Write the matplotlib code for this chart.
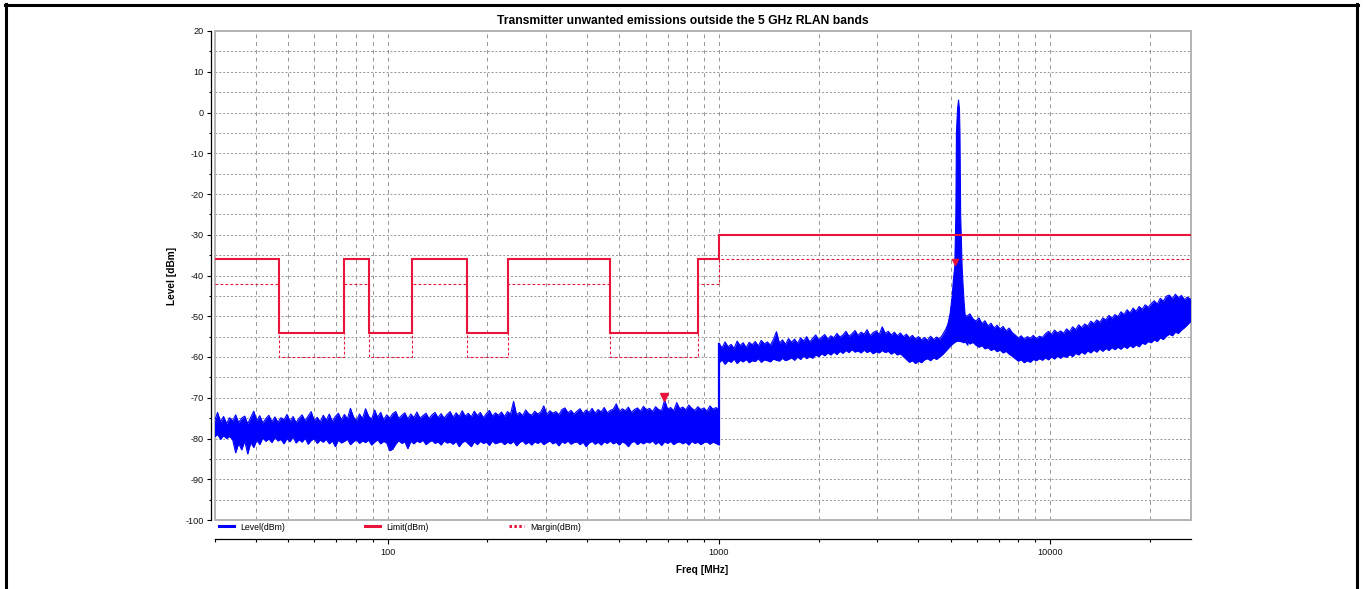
import numpy as np
import matplotlib
matplotlib.use("Agg")
import matplotlib.pyplot as plt
from matplotlib.lines import Line2D
from matplotlib.patches import Rectangle
from matplotlib.ticker import MultipleLocator, LogLocator, FixedLocator, FuncFormatter, NullFormatter

plt.rcParams['font.family'] = ['Liberation Sans', 'DejaVu Sans']

# ---------------- chart data ----------------
title = "Transmitter unwanted emissions outside the 5 GHz RLAN bands"
x_label = "Freq [MHz]"
y_label = "Level [dBm]"
freq_range_mhz = (30, 26500)
level_range_dbm = (-100, 20)
x_tick_values = [100, 1000, 10000]
legend_labels = ["Level(dBm)", "Limit(dBm)", "Margin(dBm)"]

# limit mask (band edges in MHz, one level per band)
limit_edges_mhz = [30, 47, 74, 87.5, 118, 174, 230, 470, 862, 1000, 26500]
limit_dbm = [-36, -54, -36, -54, -36, -54, -36, -54, -36, -30]
margin_dbm = [-42, -60, -42, -60, -42, -60, -42, -60, -42, -36]

# sweep 1: 30 MHz .. 1 GHz, max / min of each sweep bin
sweep1_start_mhz, sweep1_stop_mhz = 30, 1000
sweep1_max_dbm = [
    -75.8, -73.6, -75.9, -74.6, -76.3, -74.9, -75.7, -74.2, -76.1, -75.0, -74.5, -76.4,
    -74.8, -73.3, -75.6, -74.4, -76.2, -75.1, -74.3, -75.9, -74.7, -76.0, -74.9, -75.4,
    -74.1, -75.8, -74.6, -76.1, -75.0, -74.2, -75.7, -74.5, -73.4, -75.6, -74.8, -75.9,
    -74.3, -75.5, -74.0, -75.8, -74.6, -73.8, -75.4, -74.1, -75.2, -72.6, -74.7, -75.6,
    -74.0, -75.1, -72.7, -74.5, -75.3, -73.0, -74.8, -73.6, -75.4, -74.2, -75.0, -73.9,
    -73.4, -75.1, -74.3, -73.7, -75.2, -74.0, -74.9, -73.5, -75.0, -74.4, -73.8, -75.1,
    -74.2, -73.6, -74.9, -73.9, -75.0, -74.1, -73.4, -74.8, -73.7, -74.6, -73.2, -74.5,
    -73.8, -74.7, -73.3, -74.4, -73.6, -74.9, -73.9, -73.1, -74.5, -73.7, -74.3, -73.5,
    -74.6, -73.4, -74.0, -70.9, -74.2, -73.6, -74.4, -73.0, -73.9, -74.3, -73.3, -74.0,
    -73.5, -72.0, -74.1, -73.2, -73.8, -73.4, -74.2, -72.9, -72.5, -73.7, -73.1, -74.0,
    -73.3, -72.7, -73.9, -73.0, -73.6, -72.6, -73.8, -72.9, -73.5, -72.4, -73.7, -73.1,
    -72.8, -71.5, -73.4, -72.7, -73.2, -72.3, -73.6, -72.9, -72.5, -73.3, -72.1, -73.0,
    -72.6, -73.4, -72.2, -72.9, -73.1, -70.6, -72.8, -72.4, -73.2, -71.2, -72.7, -72.3,
    -73.0, -71.8, -72.6, -73.1, -72.2, -72.9, -72.5, -73.3, -72.0, -72.8, -72.4, -73.0,
]
sweep1_min_dbm = [
    -79.6, -79.0, -80.2, -79.3, -80.0, -79.5, -80.3, -83.5, -81.2, -82.8, -80.6, -83.8,
    -81.0, -82.2, -80.4, -81.5, -79.8, -80.7, -80.1, -81.0, -79.7, -80.6, -80.2, -81.3,
    -80.0, -80.8, -79.6, -81.1, -80.3, -80.9, -79.9, -81.4, -80.5, -80.0, -81.2, -80.4,
    -80.9, -80.2, -81.3, -80.6, -82.0, -80.4, -81.1, -80.7, -80.2, -81.5, -80.8, -80.3,
    -81.2, -80.6, -81.0, -80.4, -81.6, -80.9, -80.3, -81.3, -80.7, -81.1, -83.0, -82.6,
    -81.4, -80.5, -81.2, -80.8, -82.5, -80.7, -81.3, -80.6, -81.0, -80.4, -81.5, -80.9,
    -80.5, -81.2, -80.8, -81.6, -80.6, -81.1, -80.9, -81.4, -80.7, -82.0, -81.0, -80.6,
    -81.3, -82.0, -80.8, -81.5, -80.7, -81.2, -80.9, -81.7, -80.6, -81.3, -81.0, -80.8,
    -81.5, -80.9, -81.3, -80.7, -81.8, -81.0, -80.6, -81.4, -80.9, -81.6, -80.8, -81.2,
    -80.7, -81.5, -81.0, -80.6, -81.3, -80.9, -81.8, -80.8, -81.2, -80.6, -81.4, -81.0,
    -80.8, -81.5, -80.9, -82.0, -81.1, -80.7, -81.4, -80.9, -81.6, -80.8, -81.2, -80.6,
    -81.3, -80.9, -81.6, -80.8, -81.2, -82.0, -81.0, -80.7, -81.5, -80.9, -81.3, -80.8,
    -81.1, -80.6, -81.4, -80.9, -81.7, -80.8, -81.2, -80.7, -81.5, -81.0, -80.8, -81.3,
    -80.9, -81.6, -80.7, -81.2, -80.9, -81.5, -81.0, -80.8, -81.4, -80.9, -81.2, -81.6,
]

# sweep 2: 1 GHz .. 26.5 GHz
sweep2_start_mhz, sweep2_stop_mhz = 1000, 26500
sweep2_max_dbm = [
    -56.6, -57.8, -56.3, -57.5, -56.9, -57.9, -56.1, -57.2, -56.5, -57.7, -56.4, -57.0,
    -56.2, -57.3, -55.9, -56.8, -56.3, -57.1, -55.7, -53.8, -56.6, -55.8, -56.9, -55.5,
    -56.4, -55.6, -56.7, -55.3, -56.1, -55.0, -56.3, -55.4, -54.6, -55.8, -55.1, -54.5,
    -55.6, -54.8, -55.3, -54.2, -55.1, -54.6, -53.7, -54.9, -54.3, -53.5, -54.7, -53.9,
    -54.4, -53.3, -54.8, -54.0, -53.6, -54.5, -52.6, -54.2, -53.7, -54.6, -53.9, -54.8,
    -54.1, -55.0, -54.4, -55.3, -54.7, -55.6, -55.0, -55.8, -55.2, -55.9, -54.9, -55.7,
    -55.1, -55.6, -54.5, -53.2, -51.6, -50.3, -49.5, -49.8, -49.2, -49.6, -50.0, -49.4,
    -50.6, -51.2, -50.4, -51.8, -51.1, -52.4, -51.7, -52.9, -52.2, -53.1, -52.5, -53.6,
    -52.9, -54.0, -54.6, -55.3, -54.8, -55.6, -55.0, -55.4, -54.7, -55.5, -54.9, -55.2,
    -54.3, -53.7, -54.5, -53.4, -54.1, -53.6, -54.2, -53.1, -53.8, -52.6, -53.3, -52.1,
    -52.8, -51.9, -52.4, -51.2, -51.8, -50.9, -51.5, -50.4, -50.9, -49.8, -50.5, -49.6,
    -50.1, -48.9, -49.6, -48.4, -49.2, -48.0, -48.8, -47.6, -48.3, -47.2, -47.8, -46.9,
    -46.2, -47.0, -45.6, -46.3, -45.1, -44.8, -45.7, -44.6, -45.4, -44.9, -45.9, -45.3,
    -45.8,
]
sweep2_min_dbm = [
    -61.5, -60.7, -61.8, -60.9, -61.3, -60.5, -61.6, -60.8, -61.2, -60.6, -61.4, -60.9,
    -61.1, -60.4, -61.3, -60.7, -60.9, -61.2, -60.5, -60.8, -61.0, -60.3, -60.9, -60.6,
    -60.2, -60.8, -60.0, -60.6, -59.7, -60.4, -59.9, -60.3, -59.5, -59.9, -59.2, -59.7,
    -59.0, -59.5, -58.8, -59.4, -58.6, -59.1, -58.4, -58.9, -58.2, -58.8, -58.5, -59.0,
    -58.3, -58.9, -58.5, -59.2, -58.7, -59.0, -58.4, -58.9, -58.6, -59.3, -58.8, -59.5,
    -59.2, -59.9, -60.6, -61.3, -60.9, -61.6, -61.0, -61.4, -60.7, -60.4, -60.9, -60.2,
    -60.6, -60.0, -59.4, -58.6, -57.8, -57.0, -56.4, -56.0, -56.2, -56.5, -56.1, -56.8,
    -56.4, -57.1, -57.6, -57.2, -58.0, -57.7, -58.4, -58.0, -58.7, -58.3, -59.0, -58.6,
    -59.3, -59.8, -60.4, -61.0, -60.7, -61.4, -60.9, -61.3, -60.6, -60.9, -60.4, -60.8,
    -60.2, -60.7, -60.0, -60.5, -59.8, -60.3, -59.7, -60.1, -59.4, -59.9, -59.1, -59.5,
    -58.8, -59.3, -58.5, -59.0, -58.3, -58.8, -58.0, -58.6, -57.9, -58.4, -57.7, -58.2,
    -57.6, -58.1, -57.4, -57.9, -57.2, -57.7, -57.0, -57.5, -56.6, -56.9, -56.2, -56.5,
    -55.8, -56.2, -55.3, -55.7, -54.9, -54.4, -54.8, -53.9, -54.2, -53.4, -52.8, -52.1,
    -51.3,
]

# carrier around 5.27 GHz
carrier_freq_mhz = [4800, 4870, 4965, 5040, 5080, 5130, 5170, 5190, 5230, 5268,
                    5300, 5320, 5345, 5400, 5425, 5470, 5510, 5560, 5620]
carrier_max_dbm = [-55.0, -52.6, -49.3, -45.0, -41.0, -37.8, -25.0, -5.0, 1.0, 3.2,
                   1.0, -5.0, -25.0, -37.8, -41.0, -46.0, -49.3, -51.0, -52.6]
carrier_min_dbm = [-58.0, -57.5, -57.0, -56.5, -56.0, -56.0, -56.0, -56.0, -56.0, -56.0,
                   -56.0, -56.0, -56.0, -56.0, -56.0, -56.0, -56.0, -56.5, -57.0]

# peak markers
marker_freq_mhz = [684, 5160]
marker_level_dbm = [-69.8, -36.6]

# ---------------- styling ----------------
TRACE = "#0000ff"
LIMIT = "#e8143c"
GRID = "#959595"
FRAME = "#b4b4b4"

W, H = 1365, 589
fig = plt.figure(figsize=(W / 100, H / 100), dpi=100)
fig.patch.set_facecolor("white")

left_px, right_px, top_px, bottom_px = 214.5, 1190.5, 31, 520
ax = fig.add_axes([left_px / W, 1 - bottom_px / H,
                   (right_px - left_px) / W, (bottom_px - top_px) / H])
ax.set_xscale("log")
ax.set_xlim(*freq_range_mhz)
ax.set_ylim(*level_range_dbm)

# measured trace: min/max envelope of every sweep bin
f1 = np.geomspace(sweep1_start_mhz, sweep1_stop_mhz, len(sweep1_max_dbm))
f2 = np.geomspace(sweep2_start_mhz, sweep2_stop_mhz, len(sweep2_max_dbm))
for f, lo, hi in ((f1, sweep1_min_dbm, sweep1_max_dbm),
                  (f2, sweep2_min_dbm, sweep2_max_dbm)):
    ax.fill_between(f, lo, hi, color=TRACE, lw=0, zorder=3)
    ax.plot(f, hi, color=TRACE, lw=0.8, zorder=3)
    ax.plot(f, lo, color=TRACE, lw=0.8, zorder=3)
ax.plot([f1[-1], f2[0]], [sweep1_min_dbm[-1], sweep2_max_dbm[0]],
        color=TRACE, lw=1.6, zorder=3, solid_capstyle="butt")
ax.fill_between(carrier_freq_mhz, carrier_min_dbm, carrier_max_dbm,
                color=TRACE, lw=0.8, edgecolor=TRACE, zorder=3)

# limit and margin masks
ax.stairs(margin_dbm, limit_edges_mhz, baseline=None, color=LIMIT, lw=0.8,
          linestyle=(0, (2.5, 2.0)), zorder=4)
ax.stairs(limit_dbm, limit_edges_mhz, baseline=None, color=LIMIT, lw=1.5, zorder=5)

# markers
ax.plot(marker_freq_mhz[:1], marker_level_dbm[:1], marker="v", ms=6,
        color=LIMIT, ls="none", zorder=6)
ax.plot(marker_freq_mhz[1:], marker_level_dbm[1:], marker="v", ms=4.5,
        color=LIMIT, ls="none", zorder=6)

# ticks and grid
ax.xaxis.set_major_locator(FixedLocator(x_tick_values))
ax.xaxis.set_minor_locator(LogLocator(base=10, subs=np.arange(2, 10)))
ax.xaxis.set_major_formatter(FuncFormatter(lambda v, p: f"{v:.0f}"))
ax.xaxis.set_minor_formatter(NullFormatter())
ax.yaxis.set_major_locator(MultipleLocator(10))
ax.yaxis.set_minor_locator(MultipleLocator(5))
ax.yaxis.set_major_formatter(FuncFormatter(lambda v, p: f"{v:.0f}"))
ax.grid(True, axis="x", which="both", color=GRID, lw=0.7, linestyle=(0, (4, 4)))
ax.grid(True, axis="y", which="both", color=GRID, lw=0.7, linestyle=(0, (2, 2)))
ax.set_axisbelow(True)

# spines: detached black axes lines, light frame round the plot area
for side in ("top", "right"):
    ax.spines[side].set_color(FRAME)
    ax.spines[side].set_linewidth(1.2)
ax.spines["left"].set_position(("outward", 2.6))
ax.spines["bottom"].set_position(("outward", 13.7))
for side in ("left", "bottom"):
    ax.spines[side].set_color("black")
    ax.spines[side].set_linewidth(0.9)
ax.add_patch(Rectangle((0, 0), 1, 1, transform=ax.transAxes, fill=False,
                       edgecolor=FRAME, lw=1.4, clip_on=False, zorder=2))

ax.tick_params(axis="both", which="both", direction="out", color="black", width=0.8,
               labelsize=6.6, labelcolor="#111111")
ax.tick_params(axis="y", which="major", length=3.2, pad=2)
ax.tick_params(axis="y", which="minor", length=1.6)
ax.tick_params(axis="x", which="major", length=3.6, pad=3)
ax.tick_params(axis="x", which="minor", length=2.2)

ax.set_xlabel(x_label, fontsize=7.3, weight="bold")
ax.xaxis.set_label_coords(0.5, -(570 - bottom_px) / (bottom_px - top_px))
ax.xaxis.label.set_va("center")
ax.set_ylabel(y_label, fontsize=7.3, weight="bold")
ax.yaxis.set_label_coords((172 - left_px) / (right_px - left_px), 0.5)
ax.yaxis.label.set_va("center")

fig.text(0.5, 1 - 21 / H, title, ha="center", va="center", fontsize=8.7, weight="bold")

# legend under the plot area
handles = [Line2D([], [], color=TRACE, lw=2.2),
           Line2D([], [], color=LIMIT, lw=2.2),
           Line2D([], [], color=LIMIT, lw=2.2, linestyle=(0, (0.8, 0.8)))]
ax.legend(handles, legend_labels, ncol=3, loc="center left",
          bbox_to_anchor=(219 / W, 1 - 527 / H), bbox_transform=fig.transFigure,
          frameon=False, fontsize=6.3, handlelength=1.7, handletextpad=0.7,
          columnspacing=9.2, borderpad=0, borderaxespad=0)

# outer border
for xs, ys in (([5 / W, 1358 / W], [1 - 5.3 / H, 1 - 5.3 / H]),
               ([6.2 / W, 6.2 / W], [1 - 4 / H, 0]),
               ([1356.8 / W, 1356.8 / W], [1 - 4 / H, 0])):
    fig.add_artist(Line2D(xs, ys, transform=fig.transFigure, color="black", lw=2.2))

fig.savefig("out.png", dpi=100)
